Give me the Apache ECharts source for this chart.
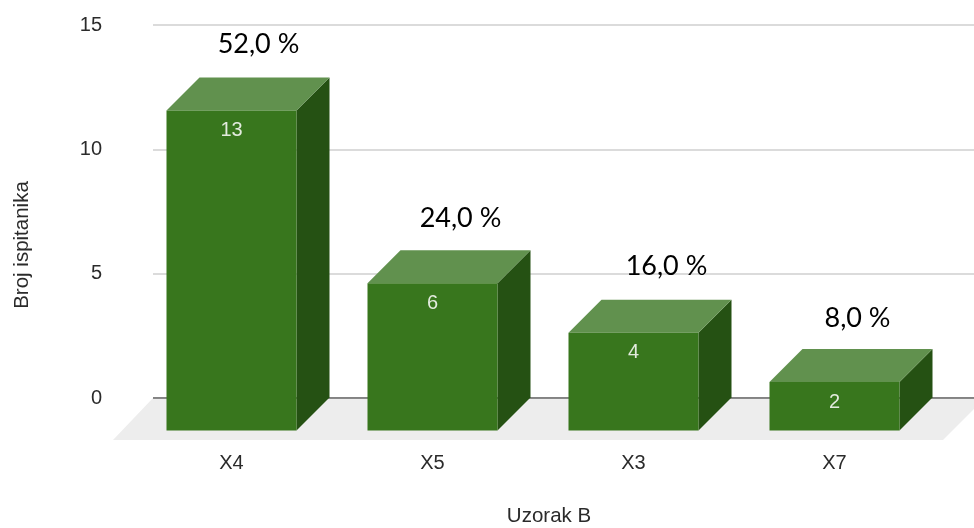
<!DOCTYPE html>
<html><head><meta charset="utf-8">
<style>html,body{margin:0;padding:0;background:#fff}#c{width:974px;height:528px}</style>
<script src="https://cdn.jsdelivr.net/npm/echarts@6/dist/echarts.min.js"></script>
</head><body><div id="c"></div>
<script>
const categories = ['X4', 'X5', 'X3', 'X7'];
const counts = [13, 6, 4, 2];
const percentLabels = ['52,0 %', '24,0 %', '16,0 %', '8,0 %'];
const yTicks = [0, 5, 10, 15];

const DEPTH_X = 33, DEPTH_Y = 33, FRONT_W = 130, FLOOR_Y = 42;
const PCT_DX = [27, 28, 33, 23];
const PCT_DY = [-33, -32, -33, -31];
const LABEL_FONT = '"Liberation Sans", Arial, sans-serif';

const chart = echarts.init(document.getElementById('c'), null, {renderer: 'canvas'});

function poly(points, fill) {
  return {type: 'polygon', shape: {points}, style: {fill}};
}

chart.setOption({
  animation: false,
  backgroundColor: '#fff',
  grid: [
    {left: 153, right: 0, top: 25, height: 373, outerBoundsMode: 'none'},
    {left: 131, width: 804, top: 28, height: 370.5, outerBoundsMode: 'none'}
  ],
  xAxis: [
    {gridIndex: 0, type: 'value', min: 0, max: 1, show: false},
    {gridIndex: 1, type: 'category', data: categories,
      axisLine: {show: false}, axisTick: {show: false},
      axisLabel: {margin: 55, color: '#2b2b2b', fontSize: 20, fontFamily: LABEL_FONT}}
  ],
  yAxis: [
    {gridIndex: 0, type: 'value', min: 0, max: 15, interval: 5,
      axisLine: {show: false}, axisTick: {show: false},
      axisLabel: {margin: 51, color: '#2b2b2b', fontSize: 20, fontFamily: LABEL_FONT, padding: [3, 0, 0, 0],
        formatter: v => yTicks.includes(v) ? String(v) : ''},
      splitLine: {lineStyle: {color: '#cfcfcf', width: 1.5}}},
    {gridIndex: 1, type: 'value', min: 0, max: 15, interval: 5, show: false}
  ],
  graphic: [
    {type: 'text', x: 549, y: 516, style: {text: 'Uzorak B', align: 'center', verticalAlign: 'middle',
      fill: '#2b2b2b', fontSize: 20.5, fontFamily: LABEL_FONT}},
    {type: 'text', x: 22, y: 245, rotation: Math.PI / 2, style: {text: 'Broj ispitanika', align: 'center', verticalAlign: 'middle',
      fill: '#2b2b2b', fontSize: 20.5, fontFamily: LABEL_FONT}}
  ],
  series: [
    {
      type: 'custom', xAxisIndex: 0, yAxisIndex: 0, clip: false, z: 1,
      data: [[0, 0]],
      renderItem(params, api) {
        const l = api.coord([0, 0]), r = api.coord([1, 0]);
        return {type: 'group', children: [
          poly([[l[0], l[1]], [r[0] + 11, l[1]], [r[0] + 11 - FLOOR_Y, l[1] + FLOOR_Y], [l[0] - 40, l[1] + FLOOR_Y]], '#ededed'),
          {type: 'line', shape: {x1: l[0], y1: l[1], x2: r[0], y2: r[1]}, style: {stroke: '#666', lineWidth: 1.5}}
        ]};
      }
    },
    {
      type: 'custom', xAxisIndex: 1, yAxisIndex: 1, clip: false, z: 3,
      data: counts.map((v, i) => [i, v]),
      encode: {x: 0, y: 1},
      renderItem(params, api) {
        const i = api.value(0), v = api.value(1);
        const top = api.coord([i, v]), base = api.coord([i, 0]);
        const x0 = top[0] - FRONT_W / 2, x1 = top[0] + FRONT_W / 2;
        const yb = base[1] + DEPTH_Y - 1, yt = top[1] + DEPTH_Y;
        return {type: 'group', children: [
          poly([[x1, yt], [x1 + DEPTH_X, yt - DEPTH_Y], [x1 + DEPTH_X, yb - DEPTH_Y], [x1, yb]], '#255113'),
          poly([[x0, yt], [x0 + DEPTH_X, yt - DEPTH_Y], [x1 + DEPTH_X, yt - DEPTH_Y], [x1, yt]], '#61914e'),
          poly([[x0, yt], [x1, yt], [x1, yb], [x0, yb]], '#38761d'),
          {type: 'text', style: {text: String(v), x: top[0], y: yt + 20, align: 'center', verticalAlign: 'middle',
            fill: '#e3ebde', fontSize: 20, fontFamily: LABEL_FONT}},
          {type: 'text', style: {text: percentLabels[i], x: top[0] + PCT_DX[i], y: yt - DEPTH_Y + PCT_DY[i], align: 'center', verticalAlign: 'middle',
            fill: '#000', fontSize: 27, fontFamily: 'Lato, sans-serif'}}
        ]};
      }
    }
  ]
});
</script></body></html>
